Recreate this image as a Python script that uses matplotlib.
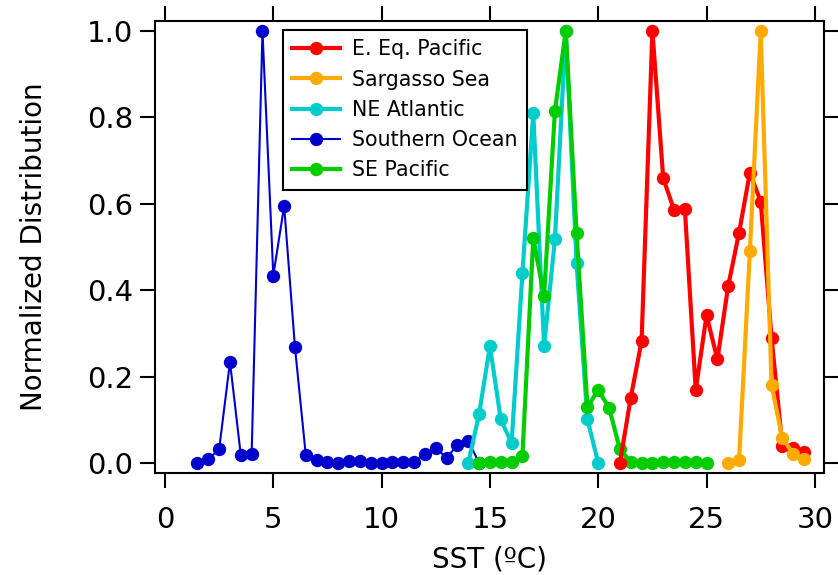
import matplotlib
matplotlib.use("Agg")
import matplotlib.pyplot as plt
import numpy as np

plt.rcParams['font.family'] = ['DejaVu Sans']

# ---- data ----
so_x = [1.5, 2.0, 2.5, 3.0, 3.5, 4.0, 4.5, 5.0, 5.5, 6.0, 6.5, 7.0, 7.5, 8.0,
        8.5, 9.0, 9.5, 10.0, 10.5, 11.0, 11.5, 12.0, 12.5, 13.0, 13.5, 14.0, 14.5]
so_y = [0.0, 0.009, 0.032, 0.234, 0.018, 0.021, 1.0, 0.434, 0.595, 0.268, 0.018,
        0.008, 0.003, 0.0, 0.004, 0.004, 0.0, 0.0, 0.002, 0.003, 0.003, 0.022,
        0.035, 0.012, 0.042, 0.052, 0.0]

nea_x = [14.0, 14.5, 15.0, 15.5, 16.0, 16.5, 17.0, 17.5, 18.0, 18.5, 19.0, 19.5, 20.0]
nea_y = [0.0, 0.113, 0.271, 0.101, 0.046, 0.439, 0.809, 0.271, 0.518, 1.0,
         0.462, 0.101, 0.0]

sep_x = [14.5, 15.0, 15.5, 16.0, 16.5, 17.0, 17.5, 18.0, 18.5, 19.0, 19.5, 20.0,
         20.5, 21.0, 21.5, 22.0, 22.5, 23.0, 23.5, 24.0, 24.5, 25.0]
sep_y = [0.0, 0.002, 0.002, 0.002, 0.016, 0.520, 0.387, 0.815, 1.0, 0.533, 0.130,
         0.169, 0.128, 0.032, 0.002, 0.0, 0.0, 0.002, 0.002, 0.002, 0.002, 0.0]

eep_x = [21.0, 21.5, 22.0, 22.5, 23.0, 23.5, 24.0, 24.5, 25.0, 25.5, 26.0, 26.5,
         27.0, 27.5, 28.0, 28.5, 29.0, 29.5]
eep_y = [0.0, 0.151, 0.282, 1.0, 0.659, 0.586, 0.587, 0.169, 0.342, 0.240, 0.410,
         0.533, 0.672, 0.605, 0.290, 0.039, 0.034, 0.026]

ss_x = [26.0, 26.5, 27.0, 27.5, 28.0, 28.5, 29.0, 29.5]
ss_y = [0.0, 0.006, 0.491, 1.0, 0.181, 0.057, 0.022, 0.009]

labels = ["E. Eq. Pacific", "Sargasso Sea", "NE Atlantic", "Southern Ocean", "SE Pacific"]
colors = {"E. Eq. Pacific": "#FF0000", "Sargasso Sea": "#FFAA00",
          "NE Atlantic": "#00CCCC", "Southern Ocean": "#0000CC",
          "SE Pacific": "#00CC00"}

x_ticks = [0, 5, 10, 15, 20, 25, 30]
y_ticks = [0.0, 0.2, 0.4, 0.6, 0.8, 1.0]

# ---- figure ----
fig = plt.figure(figsize=(8.38, 5.75), dpi=100)
ax = fig.add_axes([0.185, 0.1774, 0.798, 0.7861])

ms = 9.6
handles = {}
series = [("Southern Ocean", so_x, so_y, 1.5),
          ("NE Atlantic", nea_x, nea_y, 3.0),
          ("SE Pacific", sep_x, sep_y, 3.0),
          ("E. Eq. Pacific", eep_x, eep_y, 3.0),
          ("Sargasso Sea", ss_x, ss_y, 3.0)]
for name, xs, ys, lw in series:
    h, = ax.plot(xs, ys, '-o', color=colors[name], lw=lw, ms=ms,
                 markeredgewidth=0, label=name, clip_on=False)
    handles[name] = h

ax.set_xlim(-0.46, 30.41)
ax.set_ylim(-0.023, 1.023)
ax.set_xticks(x_ticks)
ax.set_yticks(y_ticks)
ax.set_yticklabels([f"{v:.1f}" for v in y_ticks])

for s in ax.spines.values():
    s.set_linewidth(1.5)
ax.tick_params(axis='both', direction='out', length=10.8, width=1.5,
               top=True, right=True, labelsize=21)
ax.tick_params(axis='x', pad=13)
ax.tick_params(axis='y', pad=5)

ax.set_xlabel("SST (ºC)", fontsize=20)
ax.set_ylabel("Normalized Distribution", fontsize=20)
ax.xaxis.set_label_coords(0.5, -0.16)
ax.yaxis.set_label_coords(-0.16, 0.5)

leg = ax.legend([handles[n] for n in labels], labels, loc='upper left',
                bbox_to_anchor=(0.1913, 0.980), borderaxespad=0,
                fontsize=14.8, handlelength=2.33, handletextpad=0.58,
                labelspacing=0.5, borderpad=0.45, fancybox=False,
                framealpha=1, edgecolor='black')
leg.get_frame().set_linewidth(1.5)

fig.savefig("out.png", dpi=100)
